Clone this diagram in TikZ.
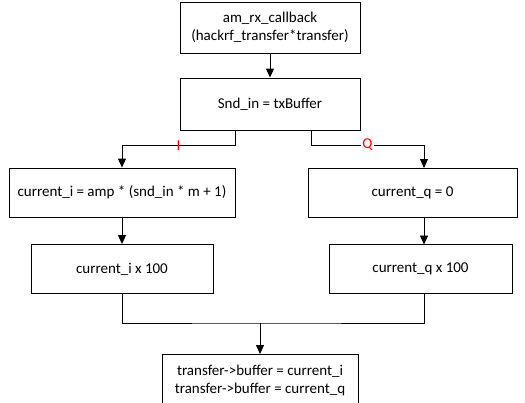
\documentclass[tikz,border=0pt]{standalone}
\usepackage{fontspec}
\setmainfont{Carlito}
\usetikzlibrary{arrows.meta}
\begin{document}
\begin{tikzpicture}[x=1pt,y=-1pt,
  box/.style={draw, line width=0.9pt, inner sep=0pt, align=center,
    font=\fontsize{15}{18}\selectfont},
  link/.style={line width=0.9pt},
  arr/.style={link, -{Triangle[length=9pt,width=8pt]}},
  tag/.style={text=red, inner sep=1pt, font=\fontsize{15}{18}\selectfont}]
\useasboundingbox (0,0) rectangle (525,402);
\clip (0,0) rectangle (525,402);

% process boxes
\node[box, minimum width=180pt, minimum height=51pt] (cb) at (270,27.5)
  {am\_rx\_callback\\(hackrf\_transfer*transfer)};
\node[box, minimum width=180pt, minimum height=52pt] (snd) at (270,104)
  {Snd\_in = txBuffer};
\node[box, minimum width=226pt, minimum height=49pt] (ci) at (122,192.5)
  {current\_i = amp * (snd\_in * m + 1)};
\node[box, minimum width=209pt, minimum height=49pt] (cq) at (412.5,192.5)
  {current\_q = 0};
\node[box, minimum width=182pt, minimum height=49pt] (ci4) at (122,269)
  {current\_i x 100};
\node[box, minimum width=183pt, minimum height=49pt] (cq4) at (420.5,269)
  {current\_q x 100};
\node[box, minimum width=196pt, minimum height=52pt, anchor=north] (out) at (260,354)
  {transfer->buffer = current\_i\\transfer->buffer = current\_q};

% connection points
\coordinate (sl) at (235,130);
\coordinate (sr) at (311,130);
\coordinate (cqin) at (424,168);
\coordinate (cqout) at (424,217);
\coordinate (cq4in) at (424,244.5);
\coordinate (cq4out) at (424,293.5);
\coordinate (merge) at (260,323);

% connectors
\draw[arr] (sl) -- (235,145) -| node[tag, pos=0.25, yshift=-1pt] {I} (ci.north);
\draw[arr] (sr) -- (311,145) -| node[tag, fill=white, pos=0.25] {Q} (cqin);
\draw[arr] (cb) -- (snd);
\draw[arr] (ci) -- (ci4);
\draw[arr] (cqout) -- (cq4in);
\draw[link] (ci4.south) |- (merge) -| (cq4out);
\draw[arr] (merge) -- (out.north);
\end{tikzpicture}
\end{document}
